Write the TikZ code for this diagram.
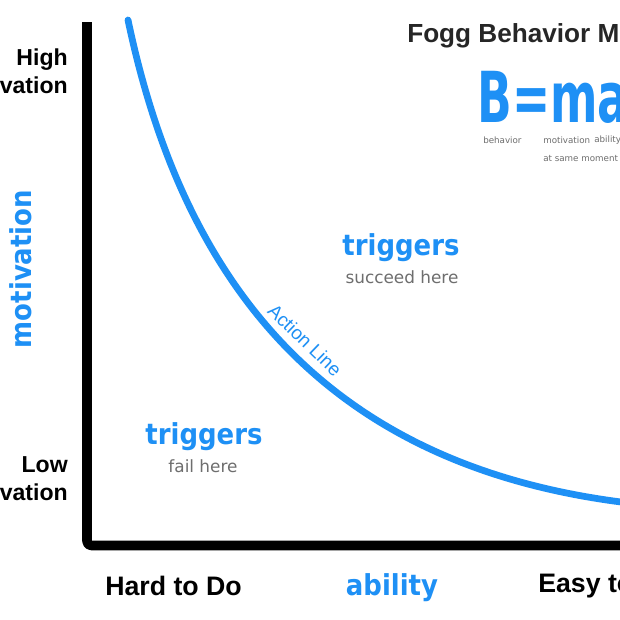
\documentclass[tikz,border=0pt]{standalone}
\usepackage{fontspec}
\setmainfont{Liberation Sans}
\newfontfamily\bluefont{DejaVu Sans Condensed}
\newfontfamily\grayfont{DejaVu Sans}
\definecolor{fbblue}{RGB}{30,144,245}
\definecolor{fbgray}{RGB}{110,110,110}
\tikzset{
  axisline/.style={line width=6.8pt, line join=round, rounded corners=3pt, black},
  actionline/.style={line width=4.8pt, fbblue, line cap=round},
  blacklabel/.style={font=\fontsize{16.4pt}{20pt}\selectfont\bfseries, text=black, inner sep=0pt},
  endlabel/.style={font=\fontsize{19pt}{21pt}\selectfont\bfseries, text=black, inner sep=0pt},
  titlelabel/.style={font=\fontsize{18.6pt}{21pt}\selectfont\bfseries, text=black!85, inner sep=0pt},
  bluelabel/.style={font=\bluefont\fontsize{20.5pt}{24pt}\selectfont\bfseries, text=fbblue, inner sep=0pt},
  graylabel/.style={font=\grayfont\fontsize{12pt}{14pt}\selectfont, text=fbgray, inner sep=0pt},
  tinylabel/.style={font=\grayfont\fontsize{6.2pt}{8pt}\selectfont, text=fbgray, inner sep=0pt},
}
\begin{document}
\begin{tikzpicture}[x=0.025cm, y=-0.025cm]
\useasboundingbox[fill=white] (0,0) rectangle (620,620);
\begin{scope}
\clip (0,0) rectangle (620,620);
% axes
\coordinate (ytop) at (87,22);
\coordinate (origin) at (87,545.5);
\coordinate (xend) at (640,545.5);
\draw[axisline] (ytop) -- (origin) -- (xend);
% action line
\coordinate (cstart) at (128,20);
\coordinate (cend) at (625,502.5);
\draw[actionline] (cstart) .. controls (181,272) and (316,464) .. (cend);
% axis labels
\node[blacklabel, anchor=east, align=right] (high) at (68,71) {High\\motivation};
\node[blacklabel, anchor=east, align=right] (low) at (68,479) {Low\\motivation};
\node[bluelabel, rotate=90] (mot) at (21,269) {motivation};
\node[endlabel, anchor=west] (hard) at (105,586) {Hard to Do};
\node[bluelabel] (abil) at (392,588) {ability};
\node[endlabel, anchor=west] (easy) at (538,586) {Easy to Do};
% regions
\node[bluelabel] (trigA) at (401,248) {triggers};
\node[graylabel] (succ) at (402,277) {succeed here};
\node[bluelabel] (trigB) at (204,437) {triggers};
\node[graylabel] (fail) at (203,466) {fail here};
\node[font=\fontsize{13.5pt}{16pt}\selectfont, text=fbblue, rotate=-44, inner sep=0pt] (act) at (305,340) {Action Line};
% title and formula
\node[titlelabel, anchor=west] (title) at (407,36) {Fogg Behavior Model};
\node[font=\bluefont\fontsize{50pt}{55pt}\selectfont\bfseries, text=fbblue, anchor=west, inner sep=0pt] (formula) at (477,97) {\scalebox{0.72}[1]{B=mat}};
\node[tinylabel, anchor=west] (fb) at (483,140) {behavior};
\node[tinylabel, anchor=west] (fm) at (543,140) {motivation};
\node[tinylabel, anchor=west] (fa) at (594,140) {ability};
\node[tinylabel, anchor=west] (fs) at (543,158) {at same moment};
\end{scope}
\end{tikzpicture}
\end{document}
